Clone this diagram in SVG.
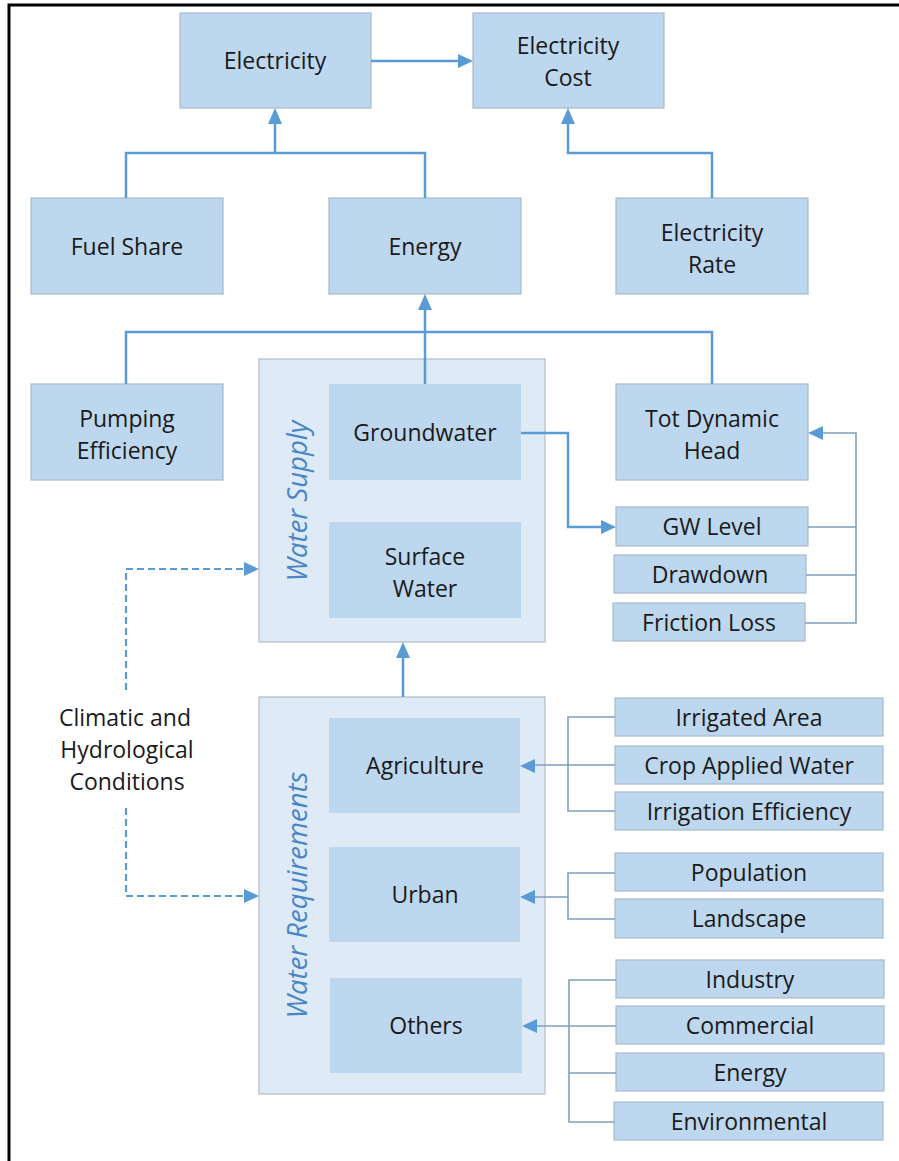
<svg xmlns="http://www.w3.org/2000/svg" width="899" height="1161" viewBox="0 0 899 1161">
<style>
.box{fill:#bdd7ee;stroke:#a9b9ca;stroke-width:1.2}
.inner{fill:#bdd7ee;stroke:none}
.cont{fill:#deeaf6;stroke:#b4bcc6;stroke-width:1.2}
.t{font-family:"Open Sans",sans-serif;font-size:23px;fill:#1a1a1a;text-anchor:middle}
.vt{font-family:"Open Sans",sans-serif;font-size:27.5px;font-style:italic;fill:#4a86c5;text-anchor:middle}
.c{fill:none;stroke:#5b9bd5;stroke-width:2.5}
.c2{fill:none;stroke:#7f9fc0;stroke-width:1.6}
.d{fill:none;stroke:#5b9bd5;stroke-width:2.2;stroke-dasharray:7,4}
.ah{fill:#5b9bd5}
</style>
<rect width="899" height="1161" fill="#fff"/>
<g id="frame"><path d="M9,1161 V5 H899" fill="none" stroke="#000" stroke-width="3"/></g>

<g id="water-supply"><rect class="cont" x="259" y="359" width="286" height="283"/><text class="vt" transform="translate(307,501) rotate(-90)">Water Supply</text></g>
<g id="water-requirements"><rect class="cont" x="259" y="697" width="286" height="397"/><text class="vt" transform="translate(307,895) rotate(-90)">Water Requirements</text></g>

<g id="electricity"><rect class="box" x="180" y="13" width="191" height="95"/><text class="t" x="275" y="69">Electricity</text></g>
<g id="electricity-cost"><rect class="box" x="473" y="13" width="191" height="95"/><text class="t" x="568" y="54">Electricity</text><text class="t" x="568" y="86">Cost</text></g>
<g id="fuel-share"><rect class="box" x="31" y="198" width="192" height="96"/><text class="t" x="127" y="255">Fuel Share</text></g>
<g id="energy"><rect class="box" x="329" y="198" width="192" height="96"/><text class="t" x="425" y="255">Energy</text></g>
<g id="electricity-rate"><rect class="box" x="616" y="198" width="192" height="96"/><text class="t" x="712" y="241">Electricity</text><text class="t" x="712" y="273">Rate</text></g>
<g id="pumping-efficiency"><rect class="box" x="31" y="384" width="192" height="96"/><text class="t" x="127" y="427">Pumping</text><text class="t" x="127" y="459">Efficiency</text></g>
<g id="groundwater"><rect class="inner" x="329" y="384" width="192" height="96"/><text class="t" x="425" y="441">Groundwater</text></g>
<g id="surface-water"><rect class="inner" x="329" y="522" width="192" height="96"/><text class="t" x="425" y="565">Surface</text><text class="t" x="425" y="597">Water</text></g>
<g id="tot-dynamic-head"><rect class="box" x="616" y="384" width="192" height="96"/><text class="t" x="712" y="427">Tot Dynamic</text><text class="t" x="712" y="459">Head</text></g>
<g id="gw-level"><rect class="box" x="616" y="507" width="192" height="39"/><text class="t" x="712" y="535">GW Level</text></g>
<g id="drawdown"><rect class="box" x="614" y="555" width="192" height="38"/><text class="t" x="710" y="583">Drawdown</text></g>
<g id="friction-loss"><rect class="box" x="613" y="603" width="192" height="38"/><text class="t" x="709" y="631">Friction Loss</text></g>
<g id="climatic"><text class="t" x="125" y="726">Climatic and</text><text class="t" x="127" y="758">Hydrological</text><text class="t" x="127" y="790">Conditions</text></g>
<g id="agriculture"><rect class="inner" x="329" y="718" width="191" height="95"/><text class="t" x="425" y="774">Agriculture</text></g>
<g id="urban"><rect class="inner" x="329" y="847" width="191" height="95"/><text class="t" x="425" y="903">Urban</text></g>
<g id="others"><rect class="inner" x="330" y="978" width="192" height="95"/><text class="t" x="426" y="1034">Others</text></g>
<g id="irrigated-area"><rect class="box" x="615" y="698" width="268" height="38"/><text class="t" x="749" y="726">Irrigated Area</text></g>
<g id="crop-applied-water"><rect class="box" x="615" y="746" width="268" height="38"/><text class="t" x="749" y="774">Crop Applied Water</text></g>
<g id="irrigation-efficiency"><rect class="box" x="615" y="792" width="268" height="38"/><text class="t" x="749" y="820">Irrigation Efficiency</text></g>
<g id="population"><rect class="box" x="615" y="853" width="268" height="38"/><text class="t" x="749" y="881">Population</text></g>
<g id="landscape"><rect class="box" x="615" y="899" width="268" height="39"/><text class="t" x="749" y="927">Landscape</text></g>
<g id="industry"><rect class="box" x="616" y="960" width="268" height="38"/><text class="t" x="750" y="988">Industry</text></g>
<g id="commercial"><rect class="box" x="616" y="1006" width="268" height="38"/><text class="t" x="750" y="1034">Commercial</text></g>
<g id="energy-use"><rect class="box" x="616" y="1053" width="268" height="38"/><text class="t" x="750" y="1081">Energy</text></g>
<g id="environmental"><rect class="box" x="614" y="1102" width="269" height="38"/><text class="t" x="749" y="1130">Environmental</text></g>

<g id="connectors">
<path class="c" d="M371,61 H460"/><path class="ah" d="M473,61 L458,54 L458,68 Z"/>
<path class="c" d="M126,198 V153 H425 V198 M275,153 V122"/><path class="ah" d="M275,108 L268,124 L282,124 Z"/>
<path class="c" d="M712,198 V153 H568 V122"/><path class="ah" d="M568,108 L561,124 L575,124 Z"/>
<path class="c" d="M126,384 V332 H712 V384 M425,384 V308"/><path class="ah" d="M425,294 L418,310 L432,310 Z"/>
<path class="c" d="M521,433 H568 V527 H603"/><path class="ah" d="M616,527 L601,520 L601,534 Z"/>
<path class="c2" d="M808,527 H856 M806,575 H856 M805,623 H856 V433 H822"/><path class="ah" d="M808,433 L823,426 L823,440 Z"/>
<path class="c" d="M403,697 V656"/><path class="ah" d="M403,642 L396,658 L410,658 Z"/>
<path class="c2" d="M615,717 H568 V811 H615 M615,765 H533"/><path class="ah" d="M520,766 L535,759 L535,773 Z"/>
<path class="c2" d="M615,873 H568 V919 H615 M568,897 H533"/><path class="ah" d="M520,897 L535,890 L535,904 Z"/>
<path class="c2" d="M616,980 H569 V1122 H614 M616,1026 H535 M569,1073 H616"/><path class="ah" d="M522,1026 L537,1019 L537,1033 Z"/>
<path class="d" d="M126,690 V569 H246"/><path class="ah" d="M259,569 L244,562 L244,576 Z"/>
<path class="d" d="M126,808 V896 H246"/><path class="ah" d="M259,896 L244,889 L244,903 Z"/>
</g>
</svg>
